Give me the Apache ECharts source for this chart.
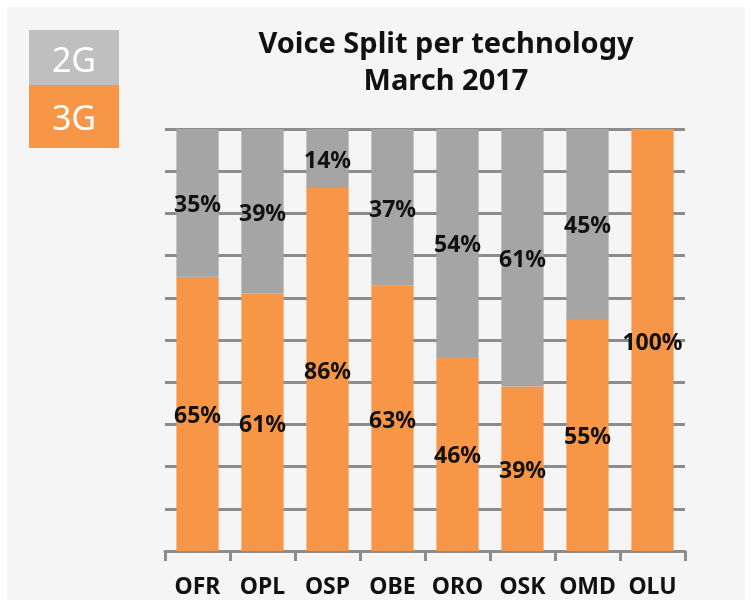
<!DOCTYPE html>
<html>
<head>
<meta charset="utf-8">
<script src="https://cdn.jsdelivr.net/npm/echarts@6/dist/echarts.min.js"></script>
<style>
html,body{margin:0;padding:0;background:#fff;}
#c{width:752px;height:607px;}
</style>
</head>
<body>
<div id="c"></div>
<script>
const categories = ['OFR','OPL','OSP','OBE','ORO','OSK','OMD','OLU'];
const share3G = [65,61,86,63,46,39,55,100];
const share2G = [35,39,14,37,54,61,45,0];
const legendNames = ['2G','3G'];
const titleLines = ['Voice Split per technology','March 2017'];

const FONT = '"Noto Sans",sans-serif';
const ORANGE = '#F79646';
const GRAY = '#A5A5A5';
const LINE = '#8C8C8C';

const chart = echarts.init(document.getElementById('c'), null, {renderer:'canvas'});
const labelStyle = {
  show: true, position: 'inside', offset: [0, 3], color: '#111', fontFamily: FONT,
  fontWeight: 'bold', fontSize: 23,
  formatter: p => p.value > 0 ? p.value + '%' : ''
};
chart.setOption({
  backgroundColor: '#ffffff',
  animation: false,
  title: {
    text: titleLines.join('\n'),
    left: 441, top: 21, textAlign: 'center',
    textStyle: {fontFamily: FONT, fontWeight: 'bold', fontSize: 29, lineHeight: 37, color: '#111'}
  },
  graphic: [
    {type:'rect', z:-10, shape:{x:7,y:7,width:738,height:593}, style:{fill:'#f5f5f5'}},
    {type:'rect', shape:{x:29,y:30,width:90,height:55}, style:{fill:'#BFBFBF'}},
    {type:'rect', shape:{x:29,y:85,width:90,height:63}, style:{fill:ORANGE}},
    {type:'text', x:74, y:62, style:{text:legendNames[0], fill:'#fff', font:'34px ' + FONT, align:'center', verticalAlign:'middle'}},
    {type:'text', x:74, y:120, style:{text:legendNames[1], fill:'#fff', font:'34px ' + FONT, align:'center', verticalAlign:'middle'}}
  ],
  grid: {left: 165, right: 67, top: 129, bottom: 56, containLabel: false},
  xAxis: {
    type: 'category', data: categories,
    axisLine: {lineStyle: {color: LINE, width: 3}},
    axisTick: {show: true, interval: 0, length: 10, lineStyle: {color: LINE, width: 3}},
    axisLabel: {interval: 0, color: '#111', fontFamily: FONT, fontWeight: 'bold', fontSize: 23, margin: 25}
  },
  yAxis: {
    type: 'value', min: 0, max: 100, interval: 10,
    axisLine: {show: false}, axisTick: {show: false}, axisLabel: {show: false},
    splitLine: {lineStyle: {color: LINE, width: 3}}
  },
  series: [
    {name: legendNames[1], type: 'bar', stack: 'v', data: share3G, barCategoryGap: '35%',
     itemStyle: {color: ORANGE}, label: labelStyle},
    {name: legendNames[0], type: 'bar', stack: 'v', data: share2G, barCategoryGap: '35%',
     itemStyle: {color: GRAY}, label: labelStyle}
  ]
});
</script>
</body>
</html>
